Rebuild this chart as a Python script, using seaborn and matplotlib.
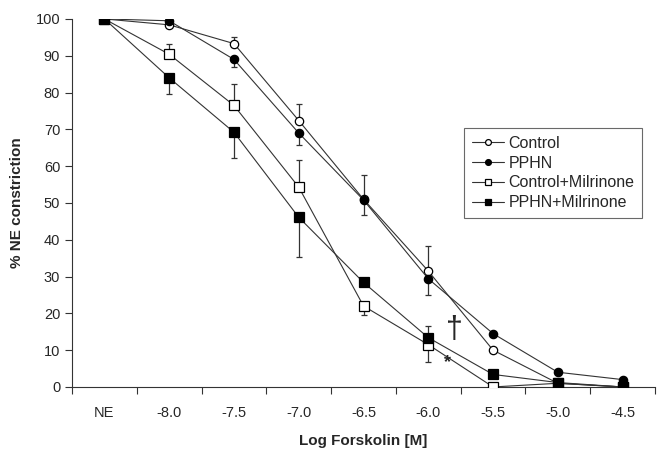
import numpy as np
import pandas as pd
import seaborn as sns
import matplotlib
matplotlib.use("Agg")
import matplotlib.pyplot as plt

# tick labels (categories along x)
doses = ["NE", "-8.0", "-7.5", "-7.0", "-6.5", "-6.0", "-5.5", "-5.0", "-4.5"]

# mean % NE constriction per group
control = [100, 98.4, 93.3, 72.4, 51.0, 31.5, 10.0, 1.0, 0.0]
pphn = [100, 99.5, 89.0, 69.0, 50.8, 29.4, 14.5, 4.0, 2.0]
control_mil = [100, 90.4, 76.5, 54.3, 22.0, 11.5, 0.0, 1.0, 0.0]
pphn_mil = [100, 84.0, 69.2, 46.1, 28.4, 13.4, 3.4, 1.2, 0.0]

# one-sided error bars (upper, lower)
control_up = [0, 0, 1.7, 4.4, 6.5, 6.7, 0, 0, 0]
control_dn = [0, 0, 0, 0, 0, 0, 0, 0, 0]
pphn_up = [0, 0, 0, 0, 0, 0, 0, 0, 0]
pphn_dn = [0, 0, 2.0, 3.3, 4.2, 4.3, 0, 0, 0]
control_mil_up = [0, 2.7, 5.7, 7.4, 0, 0, 0, 0, 0]
control_mil_dn = [0, 0, 0, 0, 2.4, 4.8, 0, 0, 0]
pphn_mil_up = [0, 0, 0, 0, 0, 3.2, 0, 0, 0]
pphn_mil_dn = [0, 4.5, 7.0, 10.7, 0, 0, 0, 0, 0]

groups = ["Control", "PPHN", "Control+Milrinone", "PPHN+Milrinone"]
means = [control, pphn, control_mil, pphn_mil]
ups = [control_up, pphn_up, control_mil_up, pphn_mil_up]
dns = [control_dn, pphn_dn, control_mil_dn, pphn_mil_dn]
markers = ["o", "o", "s", "s"]
faces = ["white", "black", "white", "black"]
sizes = [6, 6, 6.5, 6.5]

sns.set_style("ticks")
plt.rcParams["font.family"] = ["Liberation Sans", "DejaVu Sans"]

fig = plt.figure(figsize=(6.67, 4.51), dpi=100)
ax = fig.add_axes([0.108, 0.142, 0.874, 0.816])

x = np.arange(len(doses))
for name, m, up, dn, mk, fc, ms in zip(groups, means, ups, dns, markers, faces, sizes):
    df = pd.DataFrame({"x": x, "y": m})
    ax.errorbar(x, m, yerr=[dn, up], fmt="none", ecolor="#333333",
                elinewidth=0.9, capsize=2.5, capthick=0.9, zorder=2)
    sns.lineplot(data=df, x="x", y="y", ax=ax, color="#333333", linewidth=0.8,
                 marker=mk, markersize=ms, markerfacecolor=fc,
                 markeredgecolor="black", markeredgewidth=0.9,
                 label=name, zorder=3)

ax.text(5.41, 15.5, "\u2020", fontsize=22, ha="center", va="center")
ax.text(5.3, 6.6, "*", fontsize=13, fontweight="bold", ha="center", va="center")

ax.set_xlim(-0.5, len(doses) - 0.5)
ax.set_ylim(0, 100)
ax.set_yticks(np.arange(0, 101, 10))
ax.set_xticks(x)
ax.set_xticklabels(doses)
ax.set_xticks(np.arange(-0.5, len(doses)), minor=True)
ax.tick_params(axis="x", which="major", length=0, pad=14, labelsize=10.5)
ax.tick_params(axis="x", which="minor", length=5, width=0.8, color="#333333")
ax.tick_params(axis="y", length=5, width=0.8, color="#333333", labelsize=10.5)
for s in ["top", "right"]:
    ax.spines[s].set_visible(False)
for s in ["left", "bottom"]:
    ax.spines[s].set_linewidth(0.8)
    ax.spines[s].set_color("#333333")

ax.set_xlabel("Log Forskolin [M]", fontsize=11, fontweight="bold", labelpad=10)
ax.set_ylabel("% NE constriction", fontsize=11, fontweight="bold", labelpad=8)

leg = ax.legend(loc="upper left", bbox_to_anchor=(0.658, 0.726), fontsize=11.5,
                frameon=True, fancybox=False, edgecolor="#444444",
                handlelength=2.0, handletextpad=0.3, borderpad=0.5,
                labelspacing=0.3, markerscale=0.7)
leg.get_frame().set_linewidth(0.8)

fig.savefig("out.png", dpi=100)
